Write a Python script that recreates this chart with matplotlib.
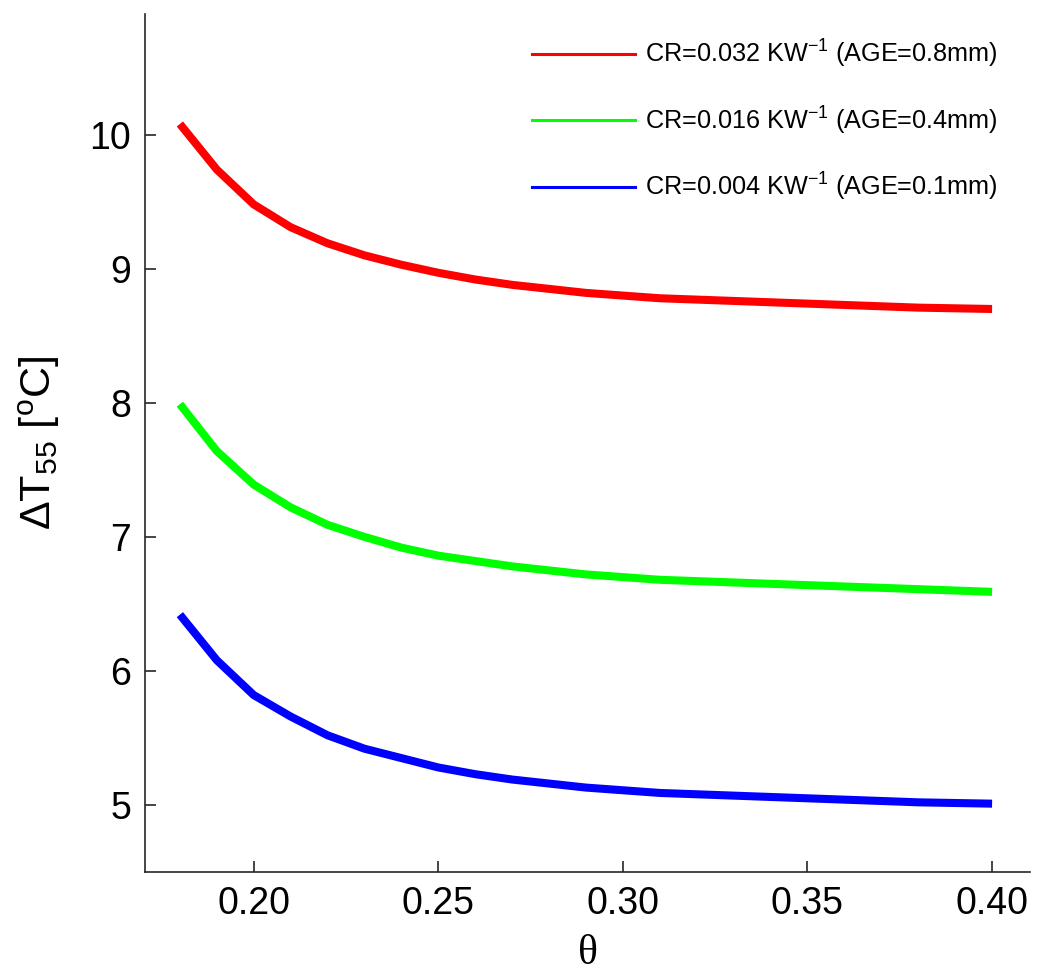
import numpy as np
import matplotlib.pyplot as plt
from matplotlib.lines import Line2D

plt.rcParams['font.family'] = ['Liberation Sans', 'DejaVu Sans']
plt.rcParams['mathtext.fontset'] = 'custom'
plt.rcParams['mathtext.rm'] = 'Liberation Sans'
plt.rcParams['mathtext.it'] = 'Liberation Sans'

theta = [0.18, 0.19, 0.20, 0.21, 0.22, 0.23, 0.24, 0.25, 0.26, 0.27, 0.28, 0.29,
         0.30, 0.31, 0.32, 0.33, 0.34, 0.35, 0.36, 0.37, 0.38, 0.39, 0.40]

dT_08 = [10.08, 9.74, 9.48, 9.31, 9.19, 9.10, 9.03, 8.97, 8.92, 8.88, 8.85, 8.82,
         8.80, 8.78, 8.77, 8.76, 8.75, 8.74, 8.73, 8.72, 8.71, 8.705, 8.70]
dT_04 = [7.99, 7.64, 7.39, 7.22, 7.09, 7.00, 6.92, 6.86, 6.82, 6.78, 6.75, 6.72,
         6.70, 6.68, 6.67, 6.66, 6.65, 6.64, 6.63, 6.62, 6.61, 6.60, 6.59]
dT_01 = [6.42, 6.08, 5.82, 5.66, 5.52, 5.42, 5.35, 5.28, 5.23, 5.19, 5.16, 5.13,
         5.11, 5.09, 5.08, 5.07, 5.06, 5.05, 5.04, 5.03, 5.02, 5.015, 5.01]

labels = [r'CR=0.032 KW$^{\mathregular{-1}}$ (AGE=0.8mm)',
          r'CR=0.016 KW$^{\mathregular{-1}}$ (AGE=0.4mm)',
          r'CR=0.004 KW$^{\mathregular{-1}}$ (AGE=0.1mm)']
colors = ['#ff0000', '#00ff00', '#0000ff']

fig = plt.figure(figsize=(10.37, 9.75), dpi=100)
ax = fig.add_axes([0.140, 0.1056, 0.853, 0.880])

for y, c in zip([dT_08, dT_04, dT_01], colors):
    ax.plot(theta, y, color=c, lw=5.8, solid_capstyle='butt')

ax.set_xlim(0.1706, 0.4102)
ax.set_ylim(4.5, 10.9)
ax.set_xticks([0.20, 0.25, 0.30, 0.35, 0.40])
ax.set_xticklabels(['0.20', '0.25', '0.30', '0.35', '0.40'])
ax.set_yticks([5, 6, 7, 8, 9, 10])

for s in ['top', 'right']:
    ax.spines[s].set_visible(False)
for s in ['left', 'bottom']:
    ax.spines[s].set_color('#262626')
    ax.spines[s].set_linewidth(1.2)
ax.tick_params(direction='in', length=8, width=1.2, color='#262626',
               labelsize=27, pad=10)

ax.set_ylabel(r'$\Delta$T$_{\mathregular{55}}$ [$^{\mathregular{o}}$C]', fontsize=31, labelpad=20)
ax.set_xlabel('θ', fontsize=30, family=['Liberation Serif', 'DejaVu Serif'], labelpad=9)

handles = [Line2D([], [], color=c, lw=2.2) for c in colors]
ax.legend(handles, labels, loc='upper right', bbox_to_anchor=(1.0, 1.009),
          frameon=False, fontsize=18.2, handlelength=4.1, handletextpad=0.4,
          labelspacing=1.36, borderpad=0.75)

fig.savefig('out.png', dpi=100)
